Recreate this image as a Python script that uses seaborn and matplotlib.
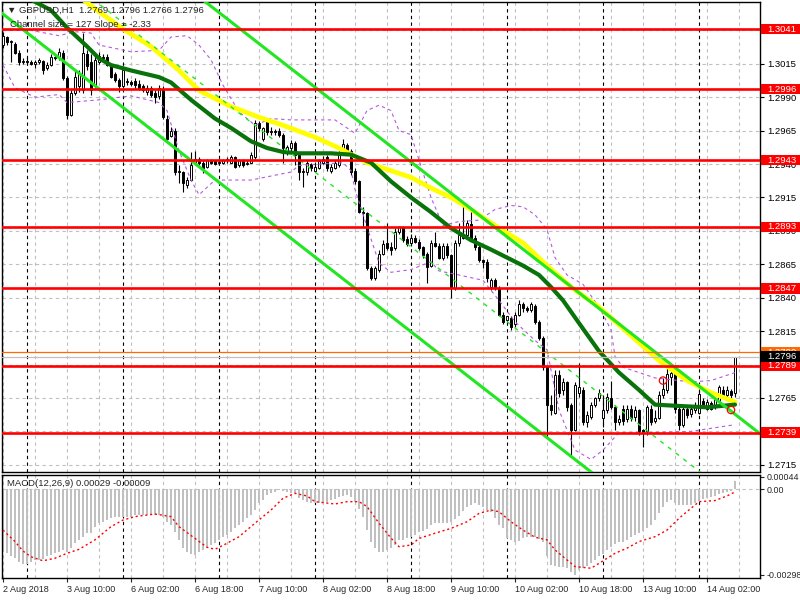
import numpy as np
import pandas as pd
import matplotlib
matplotlib.use("Agg")
import matplotlib.pyplot as plt
import matplotlib.transforms as mtransforms
from matplotlib.patches import Rectangle
import seaborn as sns

# ---- GBPUSD H1 candles ----
opens = [
    1.3029, 1.3035, 1.3031, 1.3030, 1.3023, 1.3016, 1.3017, 1.3016, 1.3015, 1.3016,
    1.3017, 1.3012, 1.3014, 1.3020, 1.3019, 1.3023, 1.3004, 1.2977, 1.2993, 1.2998,
    1.2995, 1.3022, 1.3016, 1.2999, 1.3016, 1.3020, 1.3020, 1.3013, 1.3007, 1.3003,
    1.2998, 1.3001, 1.3001, 1.3002, 1.3000, 1.2998, 1.2994, 1.2997, 1.2993, 1.2991,
    1.2996, 1.2974, 1.2961, 1.2965, 1.2934, 1.2934, 1.2924, 1.2928, 1.2941, 1.2944,
    1.2941, 1.2938, 1.2942, 1.2942, 1.2941, 1.2941, 1.2943, 1.2941, 1.2945, 1.2939,
    1.2943, 1.2940, 1.2941, 1.2945, 1.2971, 1.2959, 1.2973, 1.2964, 1.2965, 1.2965,
    1.2962, 1.2949, 1.2952, 1.2956, 1.2947, 1.2934, 1.2934, 1.2940, 1.2935, 1.2937,
    1.2941, 1.2945, 1.2935, 1.2937, 1.2939, 1.2949, 1.2954, 1.2950, 1.2935, 1.2927,
    1.2904, 1.2903, 1.2862, 1.2855, 1.2861, 1.2873, 1.2881, 1.2878, 1.2877, 1.2889,
    1.2893, 1.2884, 1.2881, 1.2885, 1.2882, 1.2878, 1.2873, 1.2864, 1.2881, 1.2879,
    1.2870, 1.2879, 1.2872, 1.2847, 1.2881, 1.2885, 1.2887, 1.2895, 1.2885, 1.2878,
    1.2868, 1.2867, 1.2848, 1.2853, 1.2847, 1.2827, 1.2823, 1.2825, 1.2820, 1.2827,
    1.2835, 1.2832, 1.2831, 1.2834, 1.2822, 1.2810, 1.2788, 1.2760, 1.2754, 1.2782,
    1.2771, 1.2777, 1.2760, 1.2741, 1.2769, 1.2771, 1.2747, 1.2751, 1.2760, 1.2765,
    1.2750, 1.2756, 1.2765, 1.2758, 1.2747, 1.2757, 1.2749, 1.2757, 1.2751, 1.2756,
    1.2741, 1.2740, 1.2757, 1.2748, 1.2750, 1.2767, 1.2771, 1.2781, 1.2784, 1.2757,
    1.2745, 1.2757, 1.2753, 1.2756, 1.2754, 1.2763, 1.2757, 1.2761, 1.2759, 1.2763,
    1.2771, 1.2767, 1.2770, 1.2769]
highs = [
    1.3039, 1.3036, 1.3033, 1.3031, 1.3025, 1.3019, 1.3020, 1.3018, 1.3018, 1.3019,
    1.3018, 1.3016, 1.3022, 1.3022, 1.3027, 1.3025, 1.3006, 1.2995, 1.3010, 1.3010,
    1.3038, 1.3025, 1.3022, 1.3022, 1.3024, 1.3022, 1.3022, 1.3015, 1.3009, 1.3004,
    1.3013, 1.3004, 1.3003, 1.3004, 1.3003, 1.3000, 1.2999, 1.2998, 1.2995, 1.2999,
    1.2998, 1.2977, 1.2968, 1.2967, 1.2939, 1.2935, 1.2930, 1.2949, 1.2950, 1.2945,
    1.2943, 1.2944, 1.2944, 1.2943, 1.2944, 1.2944, 1.2945, 1.2947, 1.2946, 1.2944,
    1.2944, 1.2943, 1.2949, 1.2973, 1.2972, 1.2968, 1.2974, 1.2968, 1.2966, 1.2967,
    1.2963, 1.2954, 1.2958, 1.2957, 1.2948, 1.2937, 1.2943, 1.2941, 1.2940, 1.2944,
    1.2946, 1.2947, 1.2940, 1.2943, 1.2950, 1.2959, 1.2956, 1.2951, 1.2937, 1.2928,
    1.2908, 1.2904, 1.2864, 1.2864, 1.2876, 1.2883, 1.2896, 1.2882, 1.2892, 1.2894,
    1.2894, 1.2886, 1.2888, 1.2887, 1.2884, 1.2879, 1.2874, 1.2883, 1.2889, 1.2881,
    1.2881, 1.2881, 1.2873, 1.2883, 1.2896, 1.2911, 1.2898, 1.2906, 1.2887, 1.2881,
    1.2869, 1.2869, 1.2855, 1.2855, 1.2849, 1.2829, 1.2826, 1.2826, 1.2829, 1.2838,
    1.2837, 1.2834, 1.2837, 1.2835, 1.2823, 1.2811, 1.2789, 1.2767, 1.2786, 1.2786,
    1.2780, 1.2778, 1.2761, 1.2777, 1.2791, 1.2773, 1.2755, 1.2762, 1.2766, 1.2772,
    1.2767, 1.2769, 1.2778, 1.2760, 1.2752, 1.2760, 1.2760, 1.2760, 1.2759, 1.2757,
    1.2742, 1.2760, 1.2760, 1.2756, 1.2770, 1.2780, 1.2790, 1.2789, 1.2786, 1.2760,
    1.2760, 1.2760, 1.2760, 1.2762, 1.2771, 1.2765, 1.2764, 1.2763, 1.2766, 1.2775,
    1.2774, 1.2774, 1.2772, 1.2796]
lows = [
    1.3027, 1.3029, 1.3016, 1.3022, 1.3014, 1.3015, 1.3014, 1.3014, 1.3012, 1.3015,
    1.3007, 1.3010, 1.3013, 1.3018, 1.3018, 1.3003, 1.2974, 1.2976, 1.2992, 1.2994,
    1.2993, 1.3010, 1.2992, 1.2997, 1.3015, 1.3018, 1.3013, 1.3004, 1.3001, 1.2994,
    1.2997, 1.2999, 1.2998, 1.2997, 1.2995, 1.2994, 1.2992, 1.2990, 1.2986, 1.2989,
    1.2974, 1.2958, 1.2960, 1.2932, 1.2926, 1.2919, 1.2922, 1.2927, 1.2939, 1.2939,
    1.2933, 1.2937, 1.2940, 1.2939, 1.2940, 1.2940, 1.2941, 1.2941, 1.2937, 1.2938,
    1.2938, 1.2939, 1.2941, 1.2944, 1.2965, 1.2957, 1.2962, 1.2962, 1.2962, 1.2960,
    1.2941, 1.2947, 1.2950, 1.2939, 1.2928, 1.2923, 1.2932, 1.2935, 1.2934, 1.2936,
    1.2940, 1.2935, 1.2933, 1.2936, 1.2938, 1.2948, 1.2948, 1.2932, 1.2925, 1.2903,
    1.2893, 1.2861, 1.2853, 1.2853, 1.2859, 1.2872, 1.2876, 1.2872, 1.2876, 1.2888,
    1.2882, 1.2879, 1.2879, 1.2881, 1.2876, 1.2870, 1.2851, 1.2863, 1.2878, 1.2869,
    1.2868, 1.2870, 1.2840, 1.2846, 1.2879, 1.2884, 1.2885, 1.2883, 1.2876, 1.2867,
    1.2862, 1.2852, 1.2846, 1.2846, 1.2826, 1.2820, 1.2821, 1.2816, 1.2818, 1.2826,
    1.2829, 1.2829, 1.2829, 1.2820, 1.2808, 1.2786, 1.2736, 1.2752, 1.2753, 1.2766,
    1.2767, 1.2755, 1.2721, 1.2740, 1.2766, 1.2745, 1.2743, 1.2749, 1.2758, 1.2763,
    1.2743, 1.2754, 1.2757, 1.2741, 1.2745, 1.2745, 1.2747, 1.2748, 1.2748, 1.2737,
    1.2728, 1.2737, 1.2745, 1.2746, 1.2749, 1.2765, 1.2769, 1.2775, 1.2754, 1.2741,
    1.2743, 1.2750, 1.2751, 1.2754, 1.2753, 1.2758, 1.2756, 1.2756, 1.2757, 1.2762,
    1.2766, 1.2766, 1.2760, 1.2766]
closes = [
    1.3036, 1.3031, 1.3032, 1.3023, 1.3016, 1.3017, 1.3016, 1.3015, 1.3016, 1.3018,
    1.3010, 1.3014, 1.3020, 1.3019, 1.3024, 1.3004, 1.2977, 1.2993, 1.3005, 1.3007,
    1.3023, 1.3013, 1.2995, 1.3018, 1.3021, 1.3019, 1.3014, 1.3005, 1.3003, 1.2998,
    1.3010, 1.3002, 1.3000, 1.2999, 1.2997, 1.2995, 1.2997, 1.2992, 1.2990, 1.2997,
    1.2975, 1.2959, 1.2965, 1.2934, 1.2935, 1.2926, 1.2928, 1.2939, 1.2944, 1.2941,
    1.2937, 1.2943, 1.2941, 1.2940, 1.2941, 1.2943, 1.2944, 1.2945, 1.2938, 1.2943,
    1.2939, 1.2941, 1.2947, 1.2971, 1.2967, 1.2967, 1.2964, 1.2965, 1.2964, 1.2962,
    1.2952, 1.2953, 1.2956, 1.2947, 1.2934, 1.2935, 1.2941, 1.2937, 1.2938, 1.2942,
    1.2944, 1.2937, 1.2938, 1.2941, 1.2949, 1.2955, 1.2950, 1.2934, 1.2927, 1.2904,
    1.2903, 1.2862, 1.2855, 1.2862, 1.2873, 1.2880, 1.2877, 1.2876, 1.2889, 1.2893,
    1.2883, 1.2880, 1.2885, 1.2882, 1.2877, 1.2872, 1.2863, 1.2881, 1.2879, 1.2870,
    1.2879, 1.2872, 1.2847, 1.2881, 1.2887, 1.2887, 1.2896, 1.2885, 1.2878, 1.2868,
    1.2867, 1.2855, 1.2853, 1.2848, 1.2827, 1.2822, 1.2826, 1.2818, 1.2827, 1.2835,
    1.2832, 1.2831, 1.2835, 1.2822, 1.2810, 1.2788, 1.2760, 1.2756, 1.2782, 1.2769,
    1.2777, 1.2758, 1.2741, 1.2775, 1.2773, 1.2747, 1.2752, 1.2760, 1.2765, 1.2769,
    1.2756, 1.2766, 1.2758, 1.2747, 1.2749, 1.2748, 1.2757, 1.2750, 1.2756, 1.2740,
    1.2739, 1.2758, 1.2747, 1.2750, 1.2767, 1.2772, 1.2783, 1.2784, 1.2757, 1.2745,
    1.2757, 1.2752, 1.2757, 1.2758, 1.2768, 1.2760, 1.2762, 1.2757, 1.2764, 1.2773,
    1.2767, 1.2771, 1.2767, 1.2796]

# moving averages (vertices: bar index, price)
ma_yellow_idx = [16, 20, 24, 30, 37, 44, 49, 57, 64, 70, 78, 84, 91, 97, 102, 107, 112,
                 117, 123, 130, 136, 142, 149, 155, 164, 171, 177, 183]
ma_yellow_val = [1.3074, 1.3063, 1.3054, 1.3041, 1.3028, 1.3010, 1.2995, 1.2983, 1.2975,
                 1.2969, 1.2960, 1.2952, 1.2941, 1.2935, 1.2930, 1.2922, 1.2915, 1.2906,
                 1.2894, 1.2881, 1.2864, 1.2848, 1.2833, 1.2817, 1.2793, 1.2778, 1.2769,
                 1.2762]
ma_green_idx = [7, 12, 16, 21, 24, 27, 32, 39, 42, 47, 53, 57, 62, 66, 70, 74, 82, 87, 92,
                97, 102, 107, 112, 117, 122, 126, 130, 134, 137, 140, 144, 149, 154, 159,
                163, 169, 176, 183]
ma_green_val = [1.3063, 1.3055, 1.3042, 1.3028, 1.3019, 1.3014, 1.3010, 1.3005, 1.3001,
                1.2988, 1.2974, 1.2967, 1.2957, 1.2952, 1.2949, 1.2948, 1.2948, 1.2947,
                1.2941, 1.2927, 1.2915, 1.2904, 1.2892, 1.2883, 1.2876, 1.2870, 1.2864,
                1.2857, 1.2848, 1.2838, 1.2821, 1.2800, 1.2784, 1.2771, 1.2760, 1.2759,
                1.2758, 1.2760]

# bollinger envelope (purple dashed)
bb_up_idx = [0, 7, 14, 18, 22, 24, 32, 39, 42, 46, 49, 52, 55, 59, 63, 67, 72, 83, 88, 91,
             94, 97, 99, 102, 104, 107, 110, 114, 119, 123, 127, 130, 133, 136, 138, 141,
             145, 149, 152, 153, 155, 163, 172, 177, 183]
bb_up_val = [1.3040, 1.3040, 1.3036, 1.3039, 1.3038, 1.3029, 1.3024, 1.3025, 1.3035,
             1.3036, 1.3029, 1.3018, 1.2999, 1.2979, 1.2969, 1.2974, 1.2973, 1.2973,
             1.2963, 1.2980, 1.2984, 1.2980, 1.2965, 1.2962, 1.2943, 1.2915, 1.2894,
             1.2897, 1.2898, 1.2906, 1.2909, 1.2908, 1.2902, 1.2891, 1.2870, 1.2857,
             1.2850, 1.2833, 1.2816, 1.2796, 1.2788, 1.2780, 1.2777, 1.2778, 1.2784]
bb_lo_idx = [0, 3, 8, 14, 16, 24, 32, 39, 41, 44, 47, 49, 53, 62, 72, 74, 85, 87, 88, 91,
             94, 97, 102, 107, 109, 114, 120, 124, 128, 133, 136, 139, 143, 147, 150, 154,
             161, 172, 183]
bb_lo_val = [1.3014, 1.2997, 1.2990, 1.2992, 1.2986, 1.2988, 1.2991, 1.2986, 1.2980,
             1.2950, 1.2928, 1.2917, 1.2928, 1.2928, 1.2934, 1.2939, 1.2941, 1.2935,
             1.2921, 1.2893, 1.2866, 1.2859, 1.2861, 1.2867, 1.2860, 1.2857, 1.2853,
             1.2838, 1.2822, 1.2808, 1.2801, 1.2756, 1.2726, 1.2719, 1.2726, 1.2739,
             1.2739, 1.2740, 1.2745]

# regression channel: middle line at its two ends, half width
channel_idx = [-1, 190]
channel_mid = [1.3118, 1.2673]
channel_half = 0.00635

levels = [1.3041, 1.2996, 1.2943, 1.2893, 1.2847, 1.2789, 1.2739]
ask_price = 1.2799
bid_price = 1.2796
mark_idx = [165, 182]
mark_val = [1.2778, 1.2756]

# MACD(12,26,9): main values drawn as histogram, signal as dotted line (units of 1e-5)
macd_main = [
    -217, -223, -234, -240, -252, -260, -260, -252, -246, -246,
    -244, -234, -229, -223, -217, -211, -217, -205, -188, -176,
    -165, -153, -153, -130, -118, -113, -107, -101, -97, -95,
    -95, -95, -95, -89, -89, -89, -89, -89, -89, -89,
    -95, -113, -124, -147, -176, -205, -217, -226, -229, -220,
    -211, -202, -194, -186, -176, -167, -159, -147, -136, -124,
    -113, -101, -89, -72, -49, -37, -20, -14, -8, -2,
    -5, -8, -14, -14, -31, -37, -43, -49, -49, -49,
    -46, -43, -37, -35, -28, -23, -20, -28, -43, -70,
    -95, -142, -182, -205, -217, -217, -213, -205, -194, -176,
    -176, -171, -165, -160, -150, -144, -137, -126, -119, -118,
    -118, -116, -113, -103, -93, -74, -63, -56, -49, -53,
    -60, -72, -78, -101, -124, -136, -168, -176, -182, -180,
    -171, -167, -167, -167, -172, -182, -234, -263, -267, -269,
    -271, -275, -287, -298, -281, -273, -267, -258, -246, -234,
    -225, -211, -200, -190, -184, -182, -176, -165, -159, -153,
    -146, -136, -124, -107, -84, -63, -43, -37, -49, -55,
    -55, -55, -55, -49, -39, -34, -29, -26, -22, -16,
    -13, -9, -7, 29]
signal_idx = [0, 3, 5, 7, 10, 13, 16, 19, 23, 27, 30, 33, 38, 42, 44, 48, 51, 53, 56, 59,
              63, 67, 70, 73, 76, 78, 83, 86, 89, 91, 94, 97, 99, 102, 104, 108, 112, 116,
              119, 122, 124, 127, 130, 133, 136, 138, 141, 143, 147, 149, 153, 156, 159,
              163, 166, 169, 172, 174, 178, 181, 183]
signal_val = [-142, -182, -215, -235, -249, -240, -223, -209, -176, -130, -107, -95, -86,
              -95, -130, -171, -202, -209, -188, -165, -118, -72, -31, -14, -23, -43, -51,
              -43, -43, -60, -118, -170, -200, -194, -171, -153, -136, -113, -84, -72, -78,
              -113, -142, -167, -176, -211, -246, -269, -275, -258, -223, -205, -182, -165,
              -142, -101, -66, -43, -39, -23, -9]

price_ticks = [1.3040, 1.3015, 1.2990, 1.2965, 1.2940, 1.2915, 1.2890, 1.2865, 1.2840,
               1.2815, 1.2790, 1.2765, 1.2740, 1.2715]
macd_ticks = [0.00044, 0.0, -0.00298]
macd_tick_labels = ["0.00044", "0.00", "-0.00298"]
date_labels = ["2 Aug 2018", "3 Aug 10:00", "6 Aug 02:00", "6 Aug 18:00", "7 Aug 10:00",
               "8 Aug 02:00", "8 Aug 18:00", "9 Aug 10:00", "10 Aug 02:00",
               "10 Aug 18:00", "13 Aug 10:00", "14 Aug 02:00"]
day_starts = [6, 30, 54, 78, 102, 126, 150, 174]

# ---- drawing ----
sns.set_style("white")
plt.rcParams["font.family"] = ["Liberation Sans", "DejaVu Sans"]

df = pd.DataFrame({"o": opens, "h": highs, "l": lows, "c": closes})
df["i"] = np.arange(len(df))
df["up"] = df["c"] >= df["o"]

fig = plt.figure(figsize=(8, 6), dpi=100)
ax = fig.add_axes([2 / 800, 128 / 600, 758 / 800, 470 / 600])
axm = fig.add_axes([2 / 800, 22 / 600, 758 / 800, 103 / 600])

grid_kw = dict(color="#C0C0C0", linestyle=(0, (3, 3)), linewidth=0.8)
for a in (ax, axm):
    a.set_xlim(-0.25, 189.25)
    a.set_xticks(np.arange(0, 189, 16))
    a.set_xticks(np.arange(0, 189, 8), minor=True)
    a.grid(which="both", axis="x", **grid_kw)
    a.set_axisbelow(True)
    for d in day_starts:
        a.axvline(d, color="black", linestyle=(0, (3, 3)), linewidth=0.8, zorder=1)
    for s in a.spines.values():
        s.set_color("black")
        s.set_linewidth(1.0)
        s.set_visible(True)
    a.tick_params(which="minor", length=0)

# price panel
ax.set_ylim(1.27096, 1.30612)
ax.set_yticks(price_ticks)
# labels that sit fully under a level box are not visible on the chart
hidden = [min(abs(t - lv) for lv in levels) < 0.00025 for t in price_ticks]
ax.set_yticklabels(["" if hd else f"{t:.4f}" for t, hd in zip(price_ticks, hidden)])
ax.grid(axis="y", **grid_kw)
ax.yaxis.tick_right()
ax.tick_params(axis="y", right=True, left=False, length=3, width=0.8,
               labelsize=6.8, pad=2, colors="black")
ax.tick_params(axis="x", which="both", bottom=False, labelbottom=False)

ax.vlines(df["i"], df["l"], df["h"], color="black", linewidth=0.8, zorder=3)
body = (df["c"] - df["o"]).abs().clip(lower=0.00002)
ax.bar(df["i"], body, bottom=df[["o", "c"]].min(axis=1), width=0.72,
       color=np.where(df["up"], "white", "black"), edgecolor="black",
       linewidth=0.7, zorder=3.5)

purple = "#B45AE0"
sns.lineplot(x=bb_up_idx, y=bb_up_val, ax=ax, color=purple, linewidth=0.8,
             linestyle=(0, (3, 3)), zorder=4)
sns.lineplot(x=bb_lo_idx, y=bb_lo_val, ax=ax, color=purple, linewidth=0.8,
             linestyle=(0, (3, 3)), zorder=4)
sns.lineplot(x=ma_yellow_idx, y=ma_yellow_val, ax=ax, color="#FFFF00", linewidth=3.4,
             zorder=5)
sns.lineplot(x=ma_green_idx, y=ma_green_val, ax=ax, color="#0A720A", linewidth=3.0,
             zorder=5.5)

lime = "#22E622"
mid = np.array(channel_mid)
sns.lineplot(x=channel_idx, y=mid + channel_half, ax=ax, color=lime, linewidth=2.2, zorder=6)
sns.lineplot(x=channel_idx, y=mid - channel_half, ax=ax, color=lime, linewidth=2.2, zorder=6)
sns.lineplot(x=channel_idx, y=mid, ax=ax, color=lime, linewidth=1.0,
             linestyle=(0, (3, 4)), zorder=6)

ax.scatter(mark_idx, mark_val, s=28, facecolors="none", edgecolors="red",
           linewidths=0.9, zorder=7)

for lv in levels:
    ax.axhline(lv, color="#FF0000", linewidth=1.9, zorder=7)
ax.axhline(ask_price, color="#FF6A00", linewidth=0.9, zorder=7)
ax.axhline(bid_price, color="#C0C0C0", linewidth=0.9, zorder=7)

# price boxes on the right scale
trans = mtransforms.blended_transform_factory(ax.transAxes, ax.transData)
box_h = 0.00078


def price_box(value, face, z, text_y=None):
    ax.add_patch(Rectangle((1.0013, value - box_h / 2), 0.06, box_h, transform=trans,
                           facecolor=face, edgecolor="none", clip_on=False, zorder=z))
    ax.text(1.0092, value if text_y is None else text_y, f"{value:.4f}", color="white",
            transform=trans, fontsize=6.8, va="center", ha="left", clip_on=False,
            zorder=z + 0.5)


for lv in levels:
    price_box(lv, "#FF0000", 19)
price_box(ask_price, "#FF6A00", 21, text_y=ask_price + 0.00002)
price_box(bid_price, "black", 23)

ax.text(0.006, 0.982, "\u25BC GBPUSD,H1  1.2769 1.2796 1.2766 1.2796",
        transform=ax.transAxes, fontsize=6.8, va="center", ha="left", zorder=25)
ax.text(0.011, 0.953, "Channel size = 127 Slope = -2.33", transform=ax.transAxes,
        fontsize=6.8, va="center", ha="left", zorder=25)

# MACD panel
macd_vals = np.array(macd_main) / 100000.0
axm.set_ylim(-0.00309, 0.00050)
axm.bar(df["i"], macd_vals, width=0.7, color="#C0C0C0", edgecolor="none",
        linewidth=0, zorder=2)
axm.axhline(0, **grid_kw, zorder=1)
sns.lineplot(x=signal_idx, y=np.array(signal_val) / 100000.0, ax=axm, color="#FF0000",
             linewidth=1.0, linestyle=(0, (1.5, 2)), zorder=3)
axm.yaxis.tick_right()
axm.set_yticks(macd_ticks)
axm.set_yticklabels(macd_tick_labels)
axm.tick_params(axis="y", right=True, left=False, length=3, width=0.8, labelsize=6.4,
                pad=1.5)
axm.set_xticklabels(date_labels, ha="left")
axm.tick_params(axis="x", which="major", bottom=True, length=3, width=0.8,
                labelsize=6.5, pad=2)
axm.set_xlabel("")
axm.set_ylabel("")
ax.set_xlabel("")
ax.set_ylabel("")
axm.text(0.006, 0.913, "MACD(12,26,9) 0.00029 -0.00009", transform=axm.transAxes,
         fontsize=6.8, va="center", ha="left", zorder=21)

fig.savefig("out.png", dpi=100)
